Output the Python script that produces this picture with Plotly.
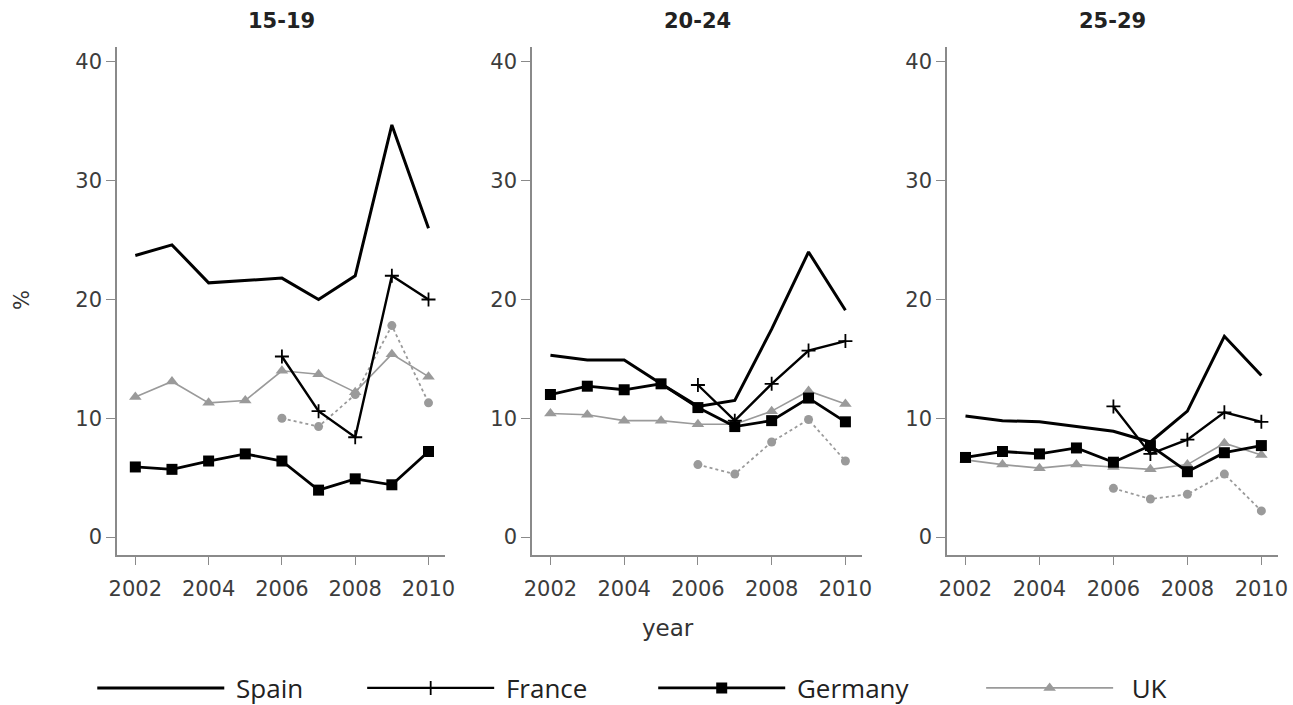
import plotly.graph_objects as go

years = [2002, 2003, 2004, 2005, 2006, 2007, 2008, 2009, 2010]
years_late = [2006, 2007, 2008, 2009, 2010]
panels = ["15-19", "20-24", "25-29"]

spain = [
    [23.7, 24.6, 21.4, 21.6, 21.8, 20.0, 22.0, 34.7, 26.0],
    [15.3, 14.9, 14.9, 12.9, 11.0, 11.5, 17.5, 24.0, 19.1],
    [10.2, 9.8, 9.7, 9.3, 8.9, 8.0, 10.6, 16.9, 13.6],
]
france = [
    [15.2, 10.6, 8.4, 22.0, 20.0],
    [12.8, 9.8, 12.9, 15.7, 16.5],
    [11.0, 7.0, 8.2, 10.5, 9.7],
]
germany = [
    [5.9, 5.7, 6.4, 7.0, 6.4, 3.95, 4.9, 4.4, 7.2],
    [12.0, 12.7, 12.4, 12.9, 10.9, 9.3, 9.8, 11.7, 9.7],
    [6.7, 7.2, 7.0, 7.5, 6.3, 7.7, 5.5, 7.1, 7.7],
]
uk = [
    [11.8, 13.1, 11.3, 11.5, 14.0, 13.7, 12.2, 15.4, 13.5],
    [10.4, 10.3, 9.8, 9.8, 9.5, 9.5, 10.6, 12.3, 11.2],
    [6.5, 6.1, 5.8, 6.1, 5.9, 5.7, 6.1, 7.9, 6.9],
]
other = [
    [10.0, 9.3, 12.0, 17.8, 11.3],
    [6.1, 5.3, 8.0, 9.9, 6.4],
    [4.1, 3.2, 3.6, 5.3, 2.2],
]

W, H = 1293, 705
x_dom = [(117, 445), (532, 862), (947, 1278)]
y_top, y_bot = 46.5, 554.5

GRAY = "#9a9a9a"
NB = "\u00a0"
fig = go.Figure()

for i in range(3):
    xa = "x" if i == 0 else f"x{i+1}"
    ya = "y" if i == 0 else f"y{i+1}"
    first = i == 0
    fig.add_trace(go.Scatter(x=years_late, y=other[i], xaxis=xa, yaxis=ya, mode="lines+markers",
                             line=dict(color=GRAY, width=1.8, dash="dot"),
                             marker=dict(symbol="circle", size=9, color=GRAY),
                             showlegend=False, name="other"))
    fig.add_trace(go.Scatter(x=years, y=uk[i], xaxis=xa, yaxis=ya, mode="lines+markers",
                             line=dict(color=GRAY, width=1.6),
                             marker=dict(symbol="triangle-up", size=11, color=GRAY),
                             showlegend=first, name=NB + NB + "UK", legendrank=4))
    fig.add_trace(go.Scatter(x=years, y=germany[i], xaxis=xa, yaxis=ya, mode="lines+markers",
                             line=dict(color="black", width=2.8),
                             marker=dict(symbol="square", size=11, color="black"),
                             showlegend=first, name=NB + "Germany" + NB * 10, legendrank=3))
    fig.add_trace(go.Scatter(x=years_late, y=france[i], xaxis=xa, yaxis=ya, mode="lines+markers",
                             line=dict(color="black", width=2.4),
                             marker=dict(symbol="cross-thin", size=10, color="black",
                                         line=dict(color="black", width=1.8)),
                             showlegend=first, name=NB + "France" + NB * 9, legendrank=2))
    fig.add_trace(go.Scatter(x=years, y=spain[i], xaxis=xa, yaxis=ya, mode="lines",
                             line=dict(color="black", width=3),
                             showlegend=first, name=NB + "Spain" + NB * 8, legendrank=1))

axis_common = dict(showgrid=False, zeroline=False, showline=True, linecolor="#8a8a8a", linewidth=1.5,
                   ticks="outside", tickcolor="#8a8a8a", ticklen=9, tickwidth=1.3, automargin=False,
                   tickfont=dict(family="DejaVu Sans", size=21, color="#3c3c3c"))

layout = dict(width=W, height=H, plot_bgcolor="white", paper_bgcolor="white",
              margin=dict(l=0, r=0, t=0, b=0, autoexpand=False), showlegend=True)
for i in range(3):
    xk = "xaxis" if i == 0 else f"xaxis{i+1}"
    yk = "yaxis" if i == 0 else f"yaxis{i+1}"
    x0, x1 = x_dom[i]
    layout[xk] = dict(axis_common, domain=[x0 / W, x1 / W], range=[2001.5, 2010.45],
                      tickvals=[2002, 2004, 2006, 2008, 2010], ticklabelstandoff=6,
                      anchor="y" if i == 0 else f"y{i+1}")
    layout[yk] = dict(axis_common, domain=[1 - y_bot / H, 1 - y_top / H], range=[-1.47, 41.3],
                      tickvals=[0, 10, 20, 30, 40],
                      anchor="x" if i == 0 else f"x{i+1}")

fig.update_layout(**layout)

for i, t in enumerate(panels):
    x0, x1 = x_dom[i]
    fig.add_annotation(text="<b>" + t + "</b>", x=(x0 + x1) / 2 / W, y=1 - 21 / H, xref="paper", yref="paper",
                       xanchor="center", yanchor="middle",
                       showarrow=False, font=dict(family="DejaVu Sans", size=21, color="#222"))

fig.add_annotation(text="%", x=22 / W, y=1 - 300 / H, xref="paper", yref="paper", textangle=-90,
                   xanchor="center", yanchor="middle",
                   showarrow=False, font=dict(family="DejaVu Sans", size=21, color="#333"))
fig.add_annotation(text="year", x=668 / W, y=1 - 628 / H, xref="paper", yref="paper",
                   xanchor="center", yanchor="middle",
                   showarrow=False, font=dict(family="DejaVu Sans", size=23, color="#333"))

fig.update_layout(legend=dict(orientation="h", x=0.489, xanchor="center", y=1 - 688 / H, yanchor="middle",
                              xref="container", yref="container",
                              font=dict(family="Open Sans", size=26, color="#222"),
                              itemwidth=127, traceorder="normal", tracegroupgap=0,
                              bgcolor="rgba(0,0,0,0)"))

fig.write_html("out.html", post_script="document.body.style.margin='0px';",
               config={"displayModeBar": False})
